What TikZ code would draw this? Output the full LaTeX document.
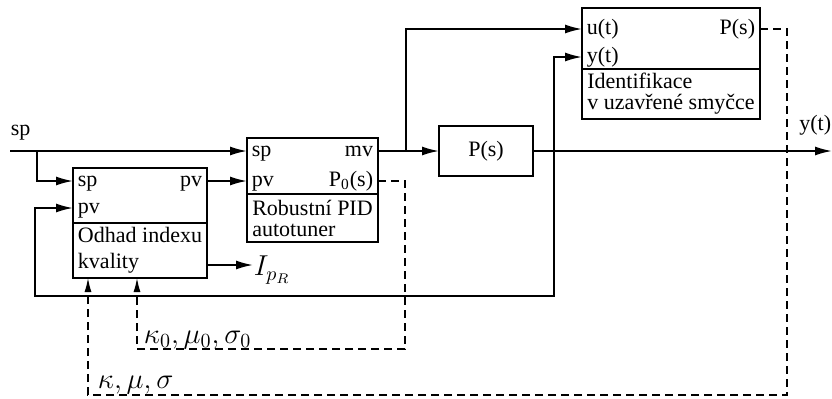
\documentclass[tikz,border=0pt]{standalone}
\usepackage[no-math]{fontspec}
\setmainfont{Liberation Serif}
\usetikzlibrary{arrows.meta,positioning}
\begin{document}
\begin{tikzpicture}[x=1pt,y=1pt,line width=0.9pt,
  font=\fontsize{11}{10.5}\selectfont,
  blk/.style={draw,inner sep=0pt,outer sep=0pt},
  txt/.style={draw,align=left,inner sep=0pt,outer sep=0pt,anchor=north},
  port/.style={inner xsep=2pt,inner ysep=0pt,text height=7.5pt,text depth=2.5pt},
  arr/.style={-{Latex[length=8.5pt,width=4.5pt]}},
  dsh/.style={line width=0.6pt,dash pattern=on 4pt off 2.5pt,-{Latex[length=7pt,width=3.5pt]}},
  big/.style={font=\fontsize{14.4}{16}\selectfont,inner sep=0pt}]
  \useasboundingbox (0,0) rectangle (416,199);

  % odhad indexu kvality
  \node[blk,minimum width=67pt,minimum height=27.5pt] (odh) at (70,101.25) {};
  \node[txt,minimum width=67pt,minimum height=27.5pt,below=0pt of odh] (odhtxt) {Odhad indexu\\[2.5pt]kvality};
  \node[port,anchor=west] (odh-sp) at ([yshift=7.25pt]odh.west) {sp};
  \node[port,anchor=west] (odh-pv) at ([yshift=-6.25pt]odh.west) {pv};
  \node[port,anchor=east] (odh-out) at ([yshift=7.25pt]odh.east) {pv};

  % robustni PID autotuner
  \node[blk,minimum width=65.5pt,minimum height=28pt] (pid) at (156.25,116) {};
  \node[txt,minimum width=65.5pt,minimum height=24pt,below=0pt of pid] (pidtxt) {Robustní PID\\autotuner};
  \node[port,anchor=west] (pid-sp) at ([yshift=7.5pt]pid.west) {sp};
  \node[port,anchor=west] (pid-pv) at ([yshift=-7.5pt]pid.west) {pv};
  \node[port,anchor=east] (pid-mv) at ([yshift=7.5pt]pid.east) {mv};
  \node[port,anchor=east] (pid-p0) at ([yshift=-7.5pt]pid.east) {P\textsubscript{0}(s)};

  % soustava
  \node[blk,minimum width=47pt,minimum height=25pt] (plant) at (243,123.5) {P(s)};

  % identifikace
  \node[blk,minimum width=89pt,minimum height=30.5pt] (idn) at (335.5,179.75) {};
  \node[txt,minimum width=89pt,minimum height=25pt,below=0pt of idn] (idntxt) {Identifikace\\v uzavřené smyčce};
  \node[port,anchor=west] (idn-u) at ([yshift=4.75pt]idn.west) {u(t)};
  \node[port,anchor=west] (idn-y) at ([yshift=-9.25pt]idn.west) {y(t)};
  \node[port,anchor=east] (idn-p) at ([yshift=4.75pt]idn.east) {P(s)};

  % signals
  \coordinate (spin) at (5,123.5);
  \coordinate (spbr) at (18.5,123.5);
  \coordinate (mvbr) at (203,123.5);
  \coordinate (yout) at (416,123.5);
  \node[anchor=base west,inner sep=0pt] (splbl) at (5,131.5) {sp};
  \node[anchor=base east,inner sep=0pt] (ylbl) at (416,134) {y(t)};
  \draw[arr] (spin) -- (pid-sp.west);
  \draw[arr] (spbr) |- (odh-sp.west);
  \draw[arr] (odh-out.east) -- (pid-pv.west);
  \draw[arr] (pid-mv.east) -- (plant.west);
  \draw[arr] (mvbr) |- (idn-u.west);
  \draw[arr] (plant.east) -- (yout);

  % feedback y(t)
  \coordinate (fbl) at (17.5,51);
  \coordinate (fbr) at (277,51);
  \draw[{Latex[length=8.5pt,width=4.5pt]}-{Latex[length=8.5pt,width=4.5pt]}]
    (odh-pv.west) -| (fbl) -- (fbr) |- (idn-y.west);

  % quality index
  \coordinate (odh-q) at ([yshift=-7.25pt]odhtxt.east);
  \node[big,anchor=west] (ipr) at (126.5,64) {$I_{p_R}$};
  \draw[arr] (odh-q) -- (odh-q -| ipr.west);

  % parameters
  \coordinate (k0r) at (202.5,24.5);
  \coordinate (k0l) at (68.5,24.5);
  \draw[dsh] (pid-p0.east) -| (k0r) -- (k0l) -- (k0l |- odhtxt.south);
  \node[big,anchor=base west] (k0lbl) at (71.5,27.5) {$\kappa_0,\mu_0,\sigma_0$};
  \coordinate (kr) at (393.5,1.5);
  \coordinate (kl) at (44,1.5);
  \draw[dsh] (idn-p.east) -| (kr) -- (kl) -- (kl |- odhtxt.south);
  \node[big,anchor=base west] (klbl) at (48.5,5) {$\kappa,\mu,\sigma$};
\end{tikzpicture}
\end{document}
